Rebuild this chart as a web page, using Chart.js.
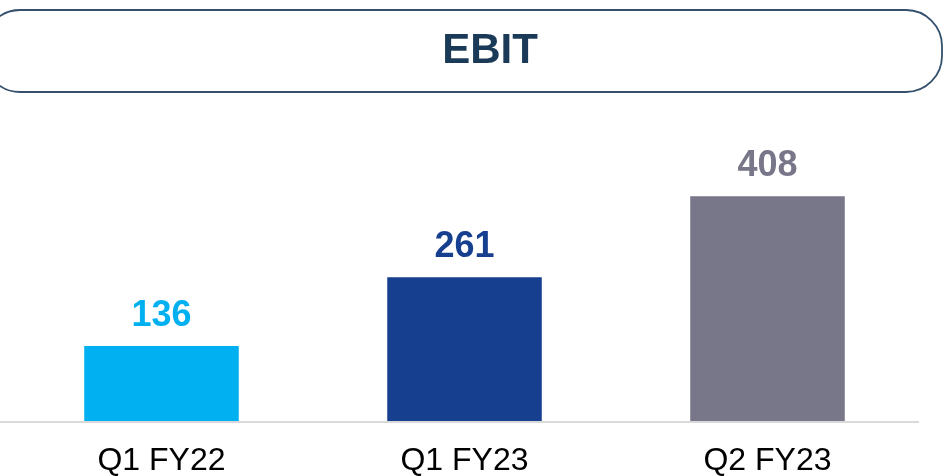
<!DOCTYPE html>
<html>
<head>
<meta charset="utf-8">
<script src="https://cdn.jsdelivr.net/npm/chart.js@4"></script>
<style>
  html, body { margin: 0; padding: 0; background: #fff; }
  #wrap { width: 943px; height: 476px; position: relative; }
</style>
</head>
<body>
<div id="wrap"><canvas id="myChartBar" width="943" height="476"></canvas></div>
<script>
// data
const categories = ['Q1 FY22', 'Q1 FY23', 'Q2 FY23'];
const ebitValues = [136, 261, 408];
const barColors = ['#00B0F0', '#173F8F', '#787689'];
const chartTitle = 'EBIT';

const FONT = "'Liberation Sans', Arial, sans-serif";

// rounded box with the title in it
const titleBox = {
    id: 'titleBox',
    beforeDraw(chart) {
        let ctx = chart.ctx;
        ctx.save();
        let x = -16, y = 10, w = 958, h = 82, r = 36;
        ctx.beginPath();
        ctx.moveTo(x + r, y);
        ctx.lineTo(x + w - r, y);
        ctx.arcTo(x + w, y, x + w, y + r, r);
        ctx.lineTo(x + w, y + h - r);
        ctx.arcTo(x + w, y + h, x + w - r, y + h, r);
        ctx.lineTo(x + r, y + h);
        ctx.arcTo(x, y + h, x, y + h - r, r);
        ctx.lineTo(x, y + r);
        ctx.arcTo(x, y, x + r, y, r);
        ctx.closePath();
        ctx.lineWidth = 1.8;
        ctx.strokeStyle = '#34506C';
        ctx.stroke();
        ctx.fillStyle = '#1B3A57';
        ctx.font = 'bold 42px ' + FONT;
        ctx.textAlign = 'center';
        ctx.textBaseline = 'middle';
        ctx.fillText(chartTitle, 490, 51);
        ctx.restore();
    }
};

// baseline under the bars
const baseLine = {
    id: 'baseLine',
    beforeDatasetsDraw(chart) {
        let ctx = chart.ctx;
        let y0 = chart.scales.y.getPixelForValue(0);
        ctx.save();
        ctx.strokeStyle = '#D9D9D9';
        ctx.lineWidth = 2;
        ctx.beginPath();
        ctx.moveTo(0, y0 + 1);
        ctx.lineTo(chart.chartArea.right, y0 + 1);
        ctx.stroke();
        ctx.restore();
    }
};

// values above the bars
const valueLabels = {
    id: 'valueLabels',
    afterDatasetsDraw(chart) {
        let ctx = chart.ctx;
        let meta = chart.getDatasetMeta(0);
        ctx.save();
        ctx.font = 'bold 36px ' + FONT;
        ctx.textAlign = 'center';
        ctx.textBaseline = 'alphabetic';
        meta.data.forEach(function(bar, i) {
            ctx.fillStyle = barColors[i];
            ctx.fillText(String(ebitValues[i]), bar.x, bar.y - 20);
        });
        ctx.restore();
    }
};

let canvas = document.getElementById('myChartBar');
let myChartBar = new Chart(canvas, {
    type: 'bar',
    data: {
        labels: categories,
        datasets: [{
            data: ebitValues,
            backgroundColor: barColors,
            borderWidth: 0,
            barPercentage: 0.51,
            categoryPercentage: 1
        }]
    },
    options: {
        responsive: false,
        animation: false,
        layout: { padding: { left: 10, right: 24, top: 140, bottom: 0 } },
        plugins: {
            legend: { display: false },
            title: { display: false },
            tooltip: { enabled: false }
        },
        scales: {
            x: {
                grid: { display: false, drawTicks: false, tickLength: 0 },
                border: { display: false },
                ticks: {
                    color: '#000',
                    padding: 24,
                    font: { family: FONT, size: 32, lineHeight: 1 }
                },
                afterFit: function(scale) {
                    scale.height = 55;
                }
            },
            y: {
                display: false,
                min: 0,
                max: 510
            }
        }
    },
    plugins: [titleBox, baseLine, valueLabels]
});
</script>
</body>
</html>
